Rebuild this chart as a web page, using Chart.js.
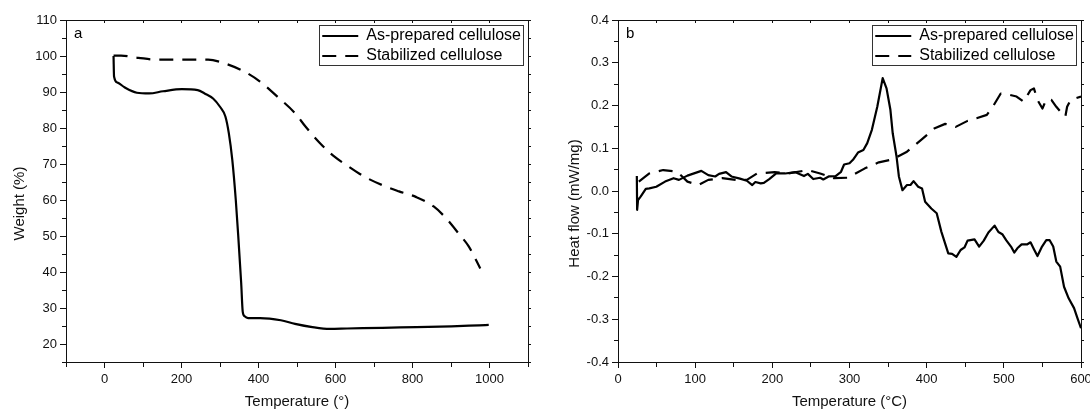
<!DOCTYPE html>
<html>
<head>
<meta charset="utf-8">
<script src="https://cdn.jsdelivr.net/npm/chart.js@4.4.1/dist/chart.umd.min.js"></script>
<style>
  html, body { margin: 0; padding: 0; background: #fff; }
  .panel { position: absolute; top: 0; width: 545px; height: 409px; }
  #panelA { left: 0; }
  #panelB { left: 545px; }
</style>
</head>
<body>
<div class="panel" id="panelA"><canvas id="tgaChart"></canvas></div>
<div class="panel" id="panelB"><canvas id="dscChart"></canvas></div>
<script>
// ---- data ----
// (a) TGA: weight (%) vs temperature
const tgaRawT = [23.5, 24.8, 34, 52, 84, 116, 152, 201, 242, 260, 282, 300, 314, 323, 332, 341, 348, 355, 359, 364, 373, 404, 458, 495, 540, 585, 630, 722, 810, 901, 973, 998];
const tgaRawW = [100, 94.3, 92.6, 91.3, 89.8, 89.6, 90.2, 90.8, 90.5, 89.6, 88.2, 85.9, 83.2, 78.5, 71.1, 60, 49, 37, 29, 27.7, 27.2, 27.2, 26.6, 25.6, 24.7, 24.2, 24.3, 24.5, 24.7, 24.9, 25.2, 25.3];
const tgaStabT = [23.5, 43, 88, 134, 206, 269, 305, 359, 404, 449, 495, 522, 558, 594, 630, 675, 720, 765, 810, 855, 891, 919, 946, 976];
const tgaStabW = [100.1, 100.1, 99.5, 99.0, 99.0, 99.0, 98.2, 95.9, 92.9, 88.7, 84.1, 80.4, 76.0, 72.3, 69.6, 66.5, 64.2, 62.4, 60.8, 58.2, 54.5, 50.8, 47.1, 41.0];

// (b) DSC: heat flow (mW/mg) vs temperature
const dscRawT = [24.4, 24.8, 26, 29.3, 36, 40.6, 49.6, 61, 72, 79, 90, 108, 117, 126, 131, 140, 147, 158, 167, 174, 178, 185, 189, 196, 205, 216.5, 230, 241, 246, 253, 262, 266, 273, 282, 289, 293, 300, 304.5, 311, 318, 323, 329, 336, 343, 348, 353, 356, 361, 364, 368.6, 374.5, 379, 383, 389, 394, 398, 406, 413, 419, 428, 433, 438.5, 444, 449, 453, 462, 468, 474, 480, 488, 493, 498, 503, 510, 513.5, 517.5, 523, 530, 534.6, 539, 543.6, 549.5, 555, 559.4, 564, 568, 573, 578, 584, 591, 595.5, 600];
const dscRawH = [0.035, -0.044, -0.021, -0.013, 0.005, 0.006, 0.010, 0.022, 0.030, 0.026, 0.036, 0.047, 0.037, 0.034, 0.040, 0.044, 0.034, 0.029, 0.024, 0.014, 0.021, 0.018, 0.019, 0.028, 0.041, 0.041, 0.044, 0.035, 0.040, 0.028, 0.031, 0.027, 0.034, 0.035, 0.045, 0.062, 0.065, 0.073, 0.090, 0.096, 0.112, 0.143, 0.197, 0.264, 0.240, 0.190, 0.135, 0.080, 0.034, 0.002, 0.014, 0.014, 0.023, 0.010, 0.006, -0.025, -0.041, -0.052, -0.095, -0.146, -0.147, -0.154, -0.138, -0.132, -0.116, -0.113, -0.130, -0.116, -0.097, -0.081, -0.096, -0.101, -0.115, -0.132, -0.144, -0.134, -0.125, -0.125, -0.120, -0.136, -0.152, -0.130, -0.115, -0.115, -0.130, -0.165, -0.177, -0.224, -0.251, -0.274, -0.298, -0.321];
const dscStabT = [27, 40.6, 58.6, 76.7, 90, 104, 117, 135, 153, 167, 180, 203, 221, 246, 262, 280, 298, 320, 338, 356, 374.5, 392.5, 410.5, 424, 437.6, 453, 464.6, 478, 487, 496, 507.5, 516.5, 525.5, 534.6, 539, 543.6, 550, 555, 561.6, 568, 575, 579.7, 582, 586.5, 600];
const dscStabH = [0.022, 0.041, 0.049, 0.045, 0.022, 0.014, 0.026, 0.030, 0.026, 0.026, 0.041, 0.044, 0.041, 0.049, 0.041, 0.030, 0.031, 0.053, 0.067, 0.074, 0.092, 0.119, 0.147, 0.157, 0.150, 0.164, 0.170, 0.178, 0.201, 0.228, 0.225, 0.221, 0.209, 0.236, 0.240, 0.213, 0.193, 0.214, 0.213, 0.197, 0.182, 0.174, 0.197, 0.213, 0.221];

const seriesNames = ['As-prepared cellulose', 'Stabilized cellulose'];

// tick labels (major) and unlabeled minor ticks
const tgaXMajor = [0, 200, 400, 600, 800, 1000];
const tgaXMinor = [-100, 100, 300, 500, 700, 900, 1100];
const tgaYMajor = [20, 30, 40, 50, 60, 70, 80, 90, 100, 110];
const tgaYMinor = [15, 25, 35, 45, 55, 65, 75, 85, 95, 105];
const dscXMajor = [0, 100, 200, 300, 400, 500, 600];
const dscXMinor = [50, 150, 250, 350, 450, 550];
const dscYMajor = [-0.4, -0.3, -0.2, -0.1, 0.0, 0.1, 0.2, 0.3, 0.4];
const dscYMinor = [-0.35, -0.25, -0.15, -0.05, 0.05, 0.15, 0.25, 0.35];

// ---- helpers ----
const FONT = "'Liberation Sans', Arial, Helvetica, sans-serif";
const INK = '#111';
const NB = '\u00a0\u00a0\u00a0\u00a0\u00a0\u00a0';
const DASH = [14, 9];

const pts = (xs, ys) => xs.map((x, i) => ({ x, y: ys[i] }));
const isIn = (list, v) => list.some(m => Math.abs(m - v) < 1e-9);
const setTicks = (major, minor) => (s) => {
    s.ticks = [...major, ...minor].sort((a, b) => a - b).map(v => ({ value: v }));
};

function bottomAxis(min, max, major, minor, title) {
    return {
        type: 'linear', position: 'bottom', min, max,
        afterBuildTicks: setTicks(major, minor),
        afterFit: (s) => { s.height = 47; s.paddingLeft = 0; s.paddingRight = 0; },
        ticks: {
            padding: 4, color: INK, autoSkip: false, maxRotation: 0,
            font: { family: FONT, size: 13 },
            callback: (v) => isIn(major, v) ? String(v) : ''
        },
        grid: {
            drawOnChartArea: false, tickLength: 6, tickColor: INK, tickWidth: 1,
            tickBorderDash: (c) => (c.tick && !isIn(major, c.tick.value)) ? [4, 10] : []
        },
        border: { color: INK, width: 1 },
        title: { display: true, text: title, color: INK, padding: 0, font: { family: FONT, size: 15, lineHeight: 1 } }
    };
}

function leftAxis(min, max, major, minor, title, fmt, width, titlePad) {
    return {
        type: 'linear', position: 'left', min, max,
        afterBuildTicks: setTicks(major, minor),
        afterFit: (s) => { s.width = width; s.paddingTop = 0; s.paddingBottom = 0; },
        ticks: {
            padding: 3, color: INK, autoSkip: false,
            font: { family: FONT, size: 13 },
            callback: (v) => isIn(major, v) ? fmt(v) : ''
        },
        grid: {
            drawOnChartArea: false, tickLength: 6, tickColor: INK, tickWidth: 1,
            tickBorderDash: (c) => (c.tick && !isIn(major, c.tick.value)) ? [0, 2, 4, 10] : []
        },
        border: { color: INK, width: 1 },
        title: { display: true, text: title + NB, color: INK, padding: { top: titlePad, bottom: 0 }, font: { family: FONT, size: 15, lineHeight: 1 } }
    };
}

// mirror axes on top and right: ticks only
function topAxis(min, max, major, minor) {
    return {
        type: 'linear', position: 'top', min, max,
        afterBuildTicks: setTicks(major, minor),
        afterFit: (s) => { s.height = 0; s.paddingLeft = 0; s.paddingRight = 0; },
        ticks: { display: false },
        grid: { drawOnChartArea: false, tickLength: -3, tickColor: INK },
        border: { color: INK, width: 1 }
    };
}
function rightAxis(min, max, major, minor) {
    return {
        type: 'linear', position: 'right', min, max,
        afterBuildTicks: setTicks(major, minor),
        afterFit: (s) => { s.width = 0; s.paddingTop = 0; s.paddingBottom = 0; },
        ticks: { display: false },
        grid: { drawOnChartArea: false, tickLength: 3, tickColor: INK },
        border: { color: INK, width: 1 }
    };
}

// legend is moved to the top-right corner of the plot and framed
const legendFrame = {
    id: 'legendFrame',
    afterLayout(chart) {
        const lg = chart.legend, a = chart.chartArea;
        const pad = lg.options.labels.padding;
        const itemW = Math.max(...lg.legendHitBoxes.map(h => h.width));
        const boxRight = a.right - 5, boxLeft = boxRight - itemW - 5, boxTop = a.top + 5;
        lg.left = boxLeft + 3 - pad;
        lg.top = boxTop + 3 - pad;
        lg.right = a.right;
        lg.bottom = lg.top + 80;
        lg.width = lg.right - lg.left;
        lg.height = 80;
        chart.$frame = { x: boxLeft, y: boxTop, w: boxRight - boxLeft, h: 40 };
    },
    afterDraw(chart) {
        const f = chart.$frame;
        if (!f) return;
        const ctx = chart.ctx;
        ctx.save();
        ctx.strokeStyle = '#333';
        ctx.lineWidth = 1;
        ctx.strokeRect(Math.round(f.x) + 0.5, Math.round(f.y) + 0.5, Math.round(f.w), f.h);
        ctx.restore();
    }
};

const panelTag = {
    id: 'panelTag',
    afterDraw(chart, args, opts) {
        const ctx = chart.ctx, a = chart.chartArea;
        ctx.save();
        ctx.fillStyle = '#000';
        ctx.font = `15px ${FONT}`;
        ctx.textBaseline = 'alphabetic';
        ctx.fillText(opts.text, a.left + 8, a.top + 18);
        ctx.restore();
    }
};

function lineSet(label, data, dashed, smooth) {
    return {
        label, data,
        borderColor: '#000', backgroundColor: '#000',
        borderWidth: 2.2, borderDash: dashed ? DASH : [],
        borderJoinStyle: 'round',
        pointRadius: 0, fill: false,
        cubicInterpolationMode: smooth ? 'monotone' : 'default',
        tension: 0
    };
}

// legend samples take the dash and width of their line
const legendOpts = {
    position: 'chartArea', align: 'start',
    labels: {
        usePointStyle: true, pointStyle: 'line', pointStyleWidth: 36,
        padding: 4, color: '#000', font: { family: FONT, size: 16 },
        generateLabels: (chart) => {
            const items = Chart.defaults.plugins.legend.labels.generateLabels(chart);
            return items.map(it => {
                const ds = chart.data.datasets[it.datasetIndex];
                it.lineDash = ds.borderDash;
                it.lineWidth = ds.borderWidth;
                it.strokeStyle = '#000';
                it.fillStyle = '#000';
                return it;
            });
        }
    }
};

// ---- (a) TGA ----
new Chart(document.getElementById('tgaChart'), {
    type: 'line',
    data: {
        datasets: [
            lineSet(seriesNames[0], pts(tgaRawT, tgaRawW), false, true),
            lineSet(seriesNames[1], pts(tgaStabT, tgaStabW), true, true)
        ]
    },
    options: {
        responsive: true, maintainAspectRatio: false, animation: false, devicePixelRatio: 1,
        layout: { padding: { left: 0, right: 17, top: 20, bottom: 0 } },
        scales: {
            x: bottomAxis(-100, 1100, tgaXMajor, tgaXMinor, 'Temperature (°)'),
            x2: topAxis(-100, 1100, tgaXMajor, tgaXMinor),
            y: leftAxis(15, 110, tgaYMajor, tgaYMinor, 'Weight (%)', v => String(v), 66, 12.5),
            y2: rightAxis(15, 110, tgaYMajor, tgaYMinor)
        },
        plugins: {
            legend: legendOpts,
            tooltip: { enabled: false },
            panelTag: { text: 'a' }
        }
    },
    plugins: [legendFrame, panelTag]
});

// ---- (b) DSC ----
new Chart(document.getElementById('dscChart'), {
    type: 'line',
    data: {
        datasets: [
            lineSet(seriesNames[0], pts(dscRawT, dscRawH), false, false),
            lineSet(seriesNames[1], pts(dscStabT, dscStabH), true, false)
        ]
    },
    options: {
        responsive: true, maintainAspectRatio: false, animation: false, devicePixelRatio: 1,
        layout: { padding: { left: 0, right: 9, top: 20, bottom: 0 } },
        scales: {
            x: bottomAxis(0, 600, dscXMajor, dscXMinor, 'Temperature (°C)'),
            x2: topAxis(0, 600, dscXMajor, dscXMinor),
            y: leftAxis(-0.4, 0.4, dscYMajor, dscYMinor, 'Heat flow (mW/mg)', v => v.toFixed(1), 73, 22),
            y2: rightAxis(-0.4, 0.4, dscYMajor, dscYMinor)
        },
        plugins: {
            legend: legendOpts,
            tooltip: { enabled: false },
            panelTag: { text: 'b' }
        }
    },
    plugins: [legendFrame, panelTag]
});
</script>
</body>
</html>
